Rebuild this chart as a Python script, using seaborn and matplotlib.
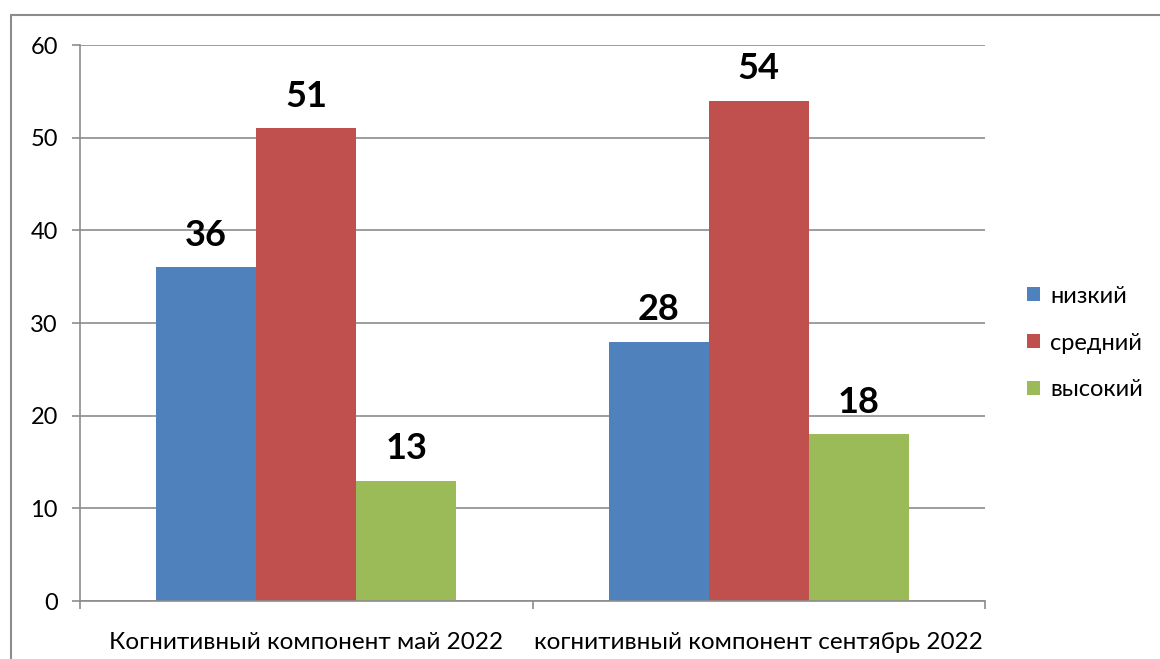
import pandas as pd
import matplotlib
matplotlib.use("Agg")
import matplotlib.pyplot as plt
import matplotlib.patches as mpatches
import seaborn as sns

# data
categories = ["Когнитивный компонент май 2022", "когнитивный компонент сентябрь 2022"]
levels = ["низкий", "средний", "высокий"]
low = [36, 28]
mid = [51, 54]
high = [13, 18]
colors = ["#4F81BD", "#C0504D", "#9BBB59"]
yticks = [0, 10, 20, 30, 40, 50, 60]

df = pd.DataFrame({
    "category": categories * 3,
    "level": [levels[0]] * 2 + [levels[1]] * 2 + [levels[2]] * 2,
    "value": low + mid + high,
})

sns.set_style("white")
plt.rcParams["font.family"] = ["Lato", "DejaVu Sans"]
plt.rcParams["text.color"] = "black"
plt.rcParams["xtick.color"] = "black"
plt.rcParams["ytick.color"] = "black"

fig = plt.figure(figsize=(11.6, 6.59), dpi=100)
ax = fig.add_axes([80 / 1160, 58 / 659, 905 / 1160, 556 / 659])

sns.barplot(data=df, x="category", y="value", hue="level", hue_order=levels,
            palette=colors, width=0.664, saturation=1, linewidth=0, ax=ax, legend=True)

for c in ax.containers:
    ax.bar_label(c, fontsize=26, fontweight="bold", padding=11)

ax.set_ylim(0, 60)
ax.set_xlim(-0.5, 1.5)
ax.set_yticks(yticks)
ax.yaxis.grid(True, color="#8c8c8c", linewidth=1.2)
ax.set_axisbelow(True)
ax.set_xlabel("")
ax.set_ylabel("")

for s in ["top", "right"]:
    ax.spines[s].set_visible(False)
for s in ["left", "bottom"]:
    ax.spines[s].set_color("#8c8c8c")
    ax.spines[s].set_linewidth(1.2)

ax.tick_params(axis="y", length=6, width=1.2, color="#8c8c8c", labelcolor="black",
               direction="out", left=True, labelsize=17, pad=10)
ax.set_xticks([-0.5, 0.5, 1.5], minor=True)
ax.tick_params(axis="x", which="minor", length=6, width=1.2, color="#8c8c8c",
               direction="out", bottom=True)
ax.tick_params(axis="x", which="major", length=0, labelsize=17.5, labelcolor="black", pad=22)

ax.legend(loc="center left", bbox_to_anchor=(1006 / 1160, (659 - 343) / 659),
          bbox_transform=fig.transFigure, frameon=False, fontsize=17,
          handlelength=0.55, handleheight=0.55, handletextpad=0.42, labelspacing=1.1)

border = mpatches.Rectangle((11 / 1160, -0.05), 1.1, (659 - 15) / 659 + 0.05,
                            transform=fig.transFigure, fill=False,
                            edgecolor="#8c8c8c", linewidth=1.5)
fig.patches.append(border)

fig.savefig("out.png", dpi=100)
